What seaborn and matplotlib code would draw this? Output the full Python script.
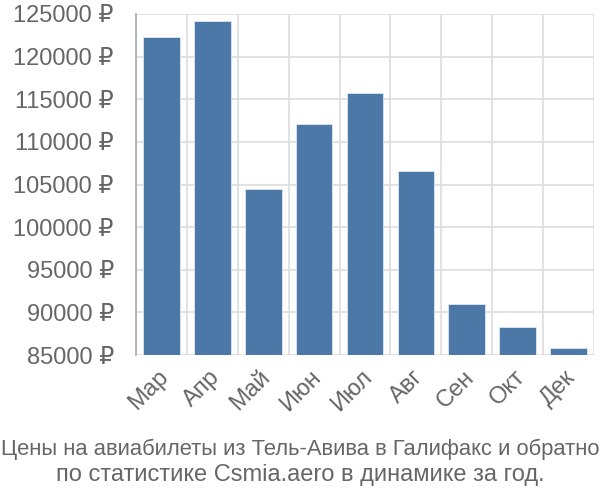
import matplotlib
matplotlib.use("Agg")
import matplotlib.pyplot as plt
import matplotlib.transforms as mtransforms
import seaborn as sns
import numpy as np
import pandas as pd
from matplotlib.ticker import FixedLocator, FuncFormatter

months = ["Мар", "Апр", "Май", "Июн", "Июл", "Авг", "Сен", "Окт", "Дек"]
prices = [122270, 124210, 104440, 112100, 115690, 106540, 90980, 88250, 85820]
yticks = [85000, 90000, 95000, 100000, 105000, 110000, 115000, 120000, 125000]
title_lines = ["Цены на авиабилеты из Тель-Авива в Галифакс и обратно",
               "по статистике Csmia.aero в динамике за год."]

sns.set_theme(style="white")
plt.rcParams['font.family'] = ['Liberation Sans', 'DejaVu Sans']

df = pd.DataFrame({"month": months, "price": prices})

fig = plt.figure(figsize=(6, 5), dpi=100)
ax = fig.add_axes([136/600, 1-355/500, (594-136)/600, (355-14)/500])

sns.barplot(data=df, x="month", y="price", color="#4c78a8", saturation=1,
            width=0.72, edgecolor="#dfe8f2", linewidth=0.6, ax=ax, zorder=3)

ax.set_ylim(85000, 125000)
ax.set_xlim(-0.5, len(months) - 0.5)
ax.yaxis.set_major_locator(FixedLocator(yticks))
ax.yaxis.set_major_formatter(FuncFormatter(lambda v, p: f"{int(v)} ₽"))

ax.xaxis.set_minor_locator(FixedLocator(np.arange(-0.5, len(months), 1.0)))
ax.grid(True, axis="y", which="major", color="#dddddd", linewidth=1.2, zorder=0)
ax.grid(True, axis="x", which="minor", color="#dddddd", linewidth=1.2, zorder=0)
ax.set_axisbelow(True)

ax.tick_params(axis="x", which="major", length=0, pad=8, labelsize=17, labelcolor="#666666")
ax.tick_params(axis="x", which="minor", length=14, width=1.2, color="#dddddd")
ax.tick_params(axis="y", which="major", length=15, width=1.2, color="#dddddd", pad=1,
               labelsize=17, labelcolor="#666666")
offset = mtransforms.ScaledTranslation(-4/100, 0, fig.dpi_scale_trans)
for lbl in ax.get_xticklabels():
    lbl.set_rotation(45)
    lbl.set_ha("right")
    lbl.set_rotation_mode("anchor")
    lbl.set_transform(lbl.get_transform() + offset)
mt = ax.xaxis.get_minor_ticks()
mt[0].tick1line.set_color("#aaaaaa")

for s in ["top", "right", "bottom"]:
    ax.spines[s].set_visible(False)
ax.spines["left"].set_color("#aaaaaa")
ax.spines["left"].set_linewidth(1.2)
ax.set_xlabel("")
ax.set_ylabel("")

fig.text(0.5, 1-455/500, title_lines[0], ha="center", va="baseline", fontsize=15.8, color="#666666")
fig.text(0.5, 1-481/500, title_lines[1], ha="center", va="baseline", fontsize=17, color="#666666")

fig.savefig("out.png", dpi=100)
